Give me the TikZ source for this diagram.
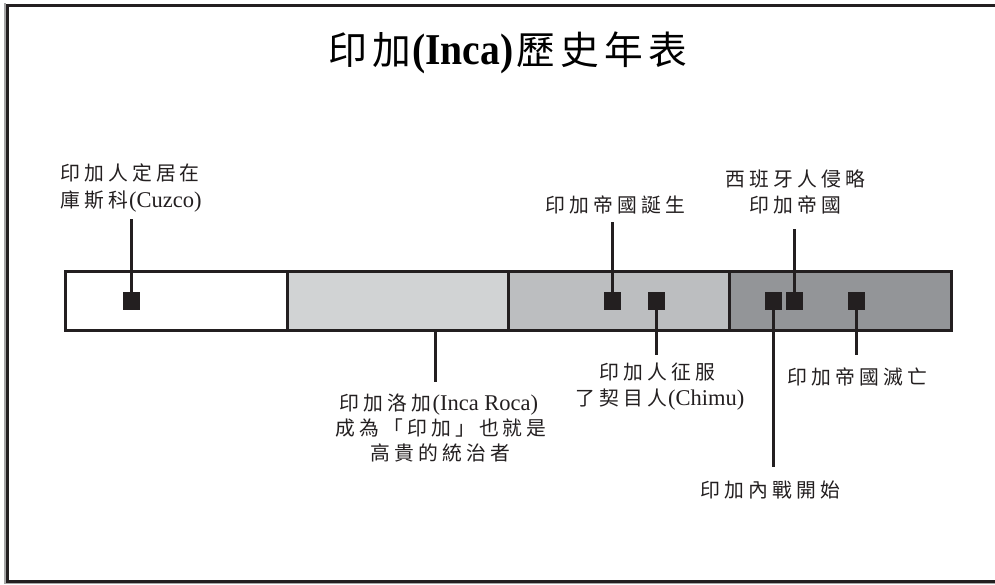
\documentclass[tikz,border=0pt]{standalone}
\usepackage{fontspec}
\setmainfont{Liberation Serif}
\newfontfamily\cjk[Scale=0.88,LetterSpace=21]{Noto Sans CJK TC}
\newfontfamily\cjkT[Scale=0.88,LetterSpace=14]{Noto Sans CJK TC}
\newfontfamily\latT[FakeStretch=0.9]{Liberation Serif}
\definecolor{ink}{HTML}{231F20}
\definecolor{gA}{HTML}{D1D3D4}
\definecolor{gB}{HTML}{BCBEC0}
\definecolor{gC}{HTML}{939598}
\tikzset{
  seg/.style={draw=ink,line width=3pt,minimum width=222pt,minimum height=59pt,inner sep=0pt,anchor=center},
  sq/.style={fill=ink,draw=none,minimum size=17pt,inner sep=0pt},
  con/.style={draw=ink,line width=3pt},
  lbl/.style={inner sep=0pt,text=ink,font=\fontsize{22.5}{26}\selectfont},
  ttl/.style={inner sep=0pt,text=black,font=\fontsize{44}{50}\selectfont}
}
\begin{document}
\begin{tikzpicture}[x=1pt,y=-1pt]
\useasboundingbox (0,0) rectangle (995,584);
\fill[white] (0,0) rectangle (995,584);
% frame
\draw[line width=1.5pt,color=gray!70] (5,3) -- (5,583.5) -- (1010,583.5);
\draw[line width=3pt,color=ink] (1010,5.5) -- (7.5,5.5) -- (7.5,581) -- (1010,581);
% title
\node[ttl,anchor=base] (title) at (508,64) {{\cjkT 印加}\kern1pt{\latT\bfseries (Inca)}\kern3pt{\cjkT 歷史年表}};
% bar segments
\node[seg,fill=white] (s1) at (176,301) {};
\node[seg,fill=gA] (s2) at (398,301) {};
\node[seg,fill=gB] (s3) at (619.5,301) {};
\node[seg,fill=gC] (s4) at (840.5,301) {};
% squares
\node[sq] (q1) at (131.5,301) {};
\node[sq] (q2) at (612.5,301) {};
\node[sq] (q3) at (656.5,301) {};
\node[sq] (q4) at (773.5,301) {};
\node[sq] (q5) at (794.5,301) {};
\node[sq] (q6) at (856.5,301) {};
% connector ends
\coordinate (e1) at (131.5,219);
\coordinate (r1) at (435,330);
\coordinate (r2) at (435,382);
\coordinate (e2) at (612.5,222);
\coordinate (e3) at (656.5,355);
\coordinate (e4) at (773.5,467);
\coordinate (e5) at (794.5,229);
\coordinate (e6) at (856.5,355);
% connectors
\draw[con] (q1.center) -- (e1);
\draw[con] (r1) -- (r2);
\draw[con] (q2.center) -- (e2);
\draw[con] (q3.center) -- (e3);
\draw[con] (q4.center) -- (e4);
\draw[con] (q5.center) -- (e5);
\draw[con] (q6.center) -- (e6);
% redraw squares on top
\foreach \n in {q1,q2,q3,q4,q5,q6} {\fill[ink] (\n.south west) rectangle (\n.north east);}
% labels
\node[lbl,anchor=base] (c1) at (130,180) {\cjk 印加人定居在};
\node[lbl,anchor=base] (c2) at (131,207) {{\cjk 庫斯科}\kern1pt(Cuzco)};
\node[lbl,anchor=base] (ir1) at (439,410) {{\cjk 印加洛加}\kern1pt(Inca Roca)};
\node[lbl,anchor=base] (ir2) at (441,435) {\cjk 成為「印加」也就是};
\node[lbl,anchor=base] (ir3) at (440,460) {\cjk 高貴的統治者};
\node[lbl,anchor=base] (b1) at (615,212) {\cjk 印加帝國誕生};
\node[lbl,anchor=base] (ch1) at (657,379) {\cjk 印加人征服};
\node[lbl,anchor=base] (ch2) at (660,405) {{\cjk 了契目人}\kern1pt(Chimu)};
\node[lbl,anchor=base] (sp1) at (795,186) {\cjk 西班牙人侵略};
\node[lbl,anchor=base] (sp2) at (795,212) {\cjk 印加帝國};
\node[lbl,anchor=base] (cw) at (770,497) {\cjk 印加內戰開始};
\node[lbl,anchor=base] (de) at (857,384) {\cjk 印加帝國滅亡};
\end{tikzpicture}
\end{document}
